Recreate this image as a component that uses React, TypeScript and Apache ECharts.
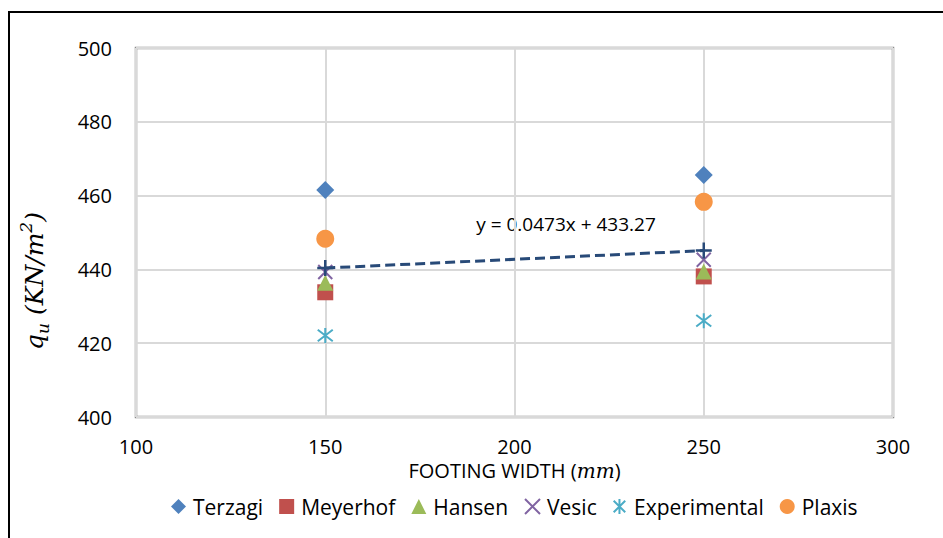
import React, { useEffect, useRef } from "react";
import * as echarts from "echarts";

// Footing widths (mm)
const widths = [150, 250];

// Ultimate bearing capacity q_u (kN/m²) for each method
const terzagi = [461.5, 465.6];
const meyerhof = [433.8, 438.1];
const hansen = [436.4, 439.4];
const vesic = [439.3, 442.6];
const experimental = [422.1, 426.1];
const plaxis = [448.3, 458.3];

// Linear trend stated on the chart: y = 0.0473x + 433.27
const trendSlope = 0.0473;
const trendIntercept = 433.27;
const trendLabel = "y = 0.0473x + 433.27";

const COLORS = {
  terzagi: "#4F81BD",
  meyerhof: "#C0504D",
  hansen: "#9BBB59",
  vesic: "#8064A2",
  experimental: "#4BACC6",
  plaxis: "#F79646",
  trend: "#284A78",
};

const CROSS = "path://M0,0L10,10M10,0L0,10";
const STAR = "path://M0,0L10,10M10,0L0,10M5,-1.5L5,11.5";
const PLUS = "path://M5,0L5,10M0,5L10,5";

const pair = (ys: number[]) => widths.map((x, i) => [x, ys[i]]);

export default function App() {
  const ref = useRef<HTMLDivElement>(null);

  useEffect(() => {
    if (!ref.current) return;
    const chart = echarts.init(ref.current, null, { renderer: "svg" });
    const trendPts = widths.map((x) => [x, trendSlope * x + trendIntercept]);
    const font = "'Open Sans', 'Noto Sans', sans-serif";
    const mathFont = "'DejaVu Serif', 'Liberation Serif', serif";

    chart.setOption({
      animation: false,
      backgroundColor: "#ffffff",
      textStyle: { fontFamily: font },
      grid: { left: 136, top: 48, width: 757, height: 369, show: true, borderColor: "#8c8c8c", borderWidth: 2.5, backgroundColor: "transparent" },
      xAxis: {
        type: "value",
        min: 100,
        max: 300,
        interval: 50,
        axisLine: { show: false },
        axisTick: { show: false },
        splitLine: { show: true, lineStyle: { color: "#d9d9d9", width: 2 } },
        axisLabel: { color: "#000", fontSize: 20, fontFamily: font, margin: 19 },
        name: "{t|FOOTING WIDTH (}{m|mm}{t|)}",
        nameLocation: "middle",
        nameGap: 43,
        nameTextStyle: {
          rich: {
            t: { fontSize: 20, fontFamily: font, color: "#000" },
            m: { fontSize: 20, fontFamily: mathFont, fontStyle: "italic", color: "#000" },
          },
        },
      },
      yAxis: {
        type: "value",
        min: 400,
        max: 500,
        interval: 20,
        axisLine: { show: false },
        axisTick: { show: false },
        splitLine: { show: true, lineStyle: { color: "#d9d9d9", width: 2 } },
        axisLabel: { color: "#000", fontSize: 20, fontFamily: font, margin: 24 },
      },
      legend: {
        bottom: 16,
        left: 166,
        itemGap: 16,
        itemWidth: 15,
        itemHeight: 15,
        textStyle: { fontSize: 21, color: "#000", fontFamily: font, padding: [0, 0, 0, 2] },
        data: ["Terzagi", "Meyerhof", "Hansen", "Vesic", "Experimental", "Plaxis"],
      },
      graphic: [
        { type: "line", shape: { x1: 8, y1: 12, x2: 943, y2: 12 }, style: { stroke: "#000", lineWidth: 2 } },
        { type: "line", shape: { x1: 9, y1: 11, x2: 9, y2: 538 }, style: { stroke: "#000", lineWidth: 2 } },
        {
          type: "text",
          x: 566,
          y: 224,
          style: { text: trendLabel, fontSize: 19, fontFamily: font, fill: "#000", align: "center", verticalAlign: "middle" },
        },
        {
          type: "text",
          x: 34,
          y: 281,
          rotation: Math.PI / 2,
          style: {
            text: "{q|q}{s|u}{q| (KN/m}{p|2}{q|)}",
            align: "center",
            verticalAlign: "middle",
            rich: {
              q: { fontSize: 25, fontFamily: mathFont, fontStyle: "italic", fill: "#000", lineHeight: 34, verticalAlign: "middle" },
              s: { fontSize: 17, fontFamily: mathFont, fontStyle: "italic", fill: "#000", lineHeight: 30, verticalAlign: "bottom" },
              p: { fontSize: 17, fontFamily: mathFont, fontStyle: "italic", fill: "#000", lineHeight: 30, verticalAlign: "top" },
            },
          },
        },
      ],
      series: [
        { name: "Terzagi", type: "scatter", data: pair(terzagi), symbol: "diamond", symbolSize: 18, itemStyle: { color: COLORS.terzagi, opacity: 1 } },
        { name: "Meyerhof", type: "scatter", data: pair(meyerhof), symbol: "rect", symbolSize: 16, itemStyle: { color: COLORS.meyerhof, opacity: 1 } },
        { name: "Hansen", type: "scatter", data: pair(hansen), symbol: "triangle", symbolSize: 16, itemStyle: { color: COLORS.hansen, opacity: 1 } },
        {
          name: "Vesic", type: "scatter", data: pair(vesic), symbol: CROSS, symbolSize: 14,
          itemStyle: { color: "rgba(0,0,0,0)", borderColor: COLORS.vesic, borderWidth: 2, opacity: 1 },
        },
        {
          name: "Experimental", type: "scatter", data: pair(experimental), symbol: STAR, symbolSize: 15,
          itemStyle: { color: "rgba(0,0,0,0)", borderColor: COLORS.experimental, borderWidth: 2, opacity: 1 },
        },
        { name: "Plaxis", type: "scatter", data: pair(plaxis), symbol: "circle", symbolSize: 18, itemStyle: { color: COLORS.plaxis, opacity: 1 } },
        {
          name: "Trend", type: "line", data: trendPts, symbol: PLUS, symbolSize: 16, showSymbol: true,
          lineStyle: { color: COLORS.trend, width: 3, type: [10, 5] },
          itemStyle: { color: "rgba(0,0,0,0)", borderColor: COLORS.trend, borderWidth: 2.5 },
          z: 3,
        },
      ],
    });
    return () => chart.dispose();
  }, []);

  return (
    <div
      ref={ref}
      style={{ position: "fixed", left: 0, top: 0, width: 943, height: 538 }}
    />
  );
}
